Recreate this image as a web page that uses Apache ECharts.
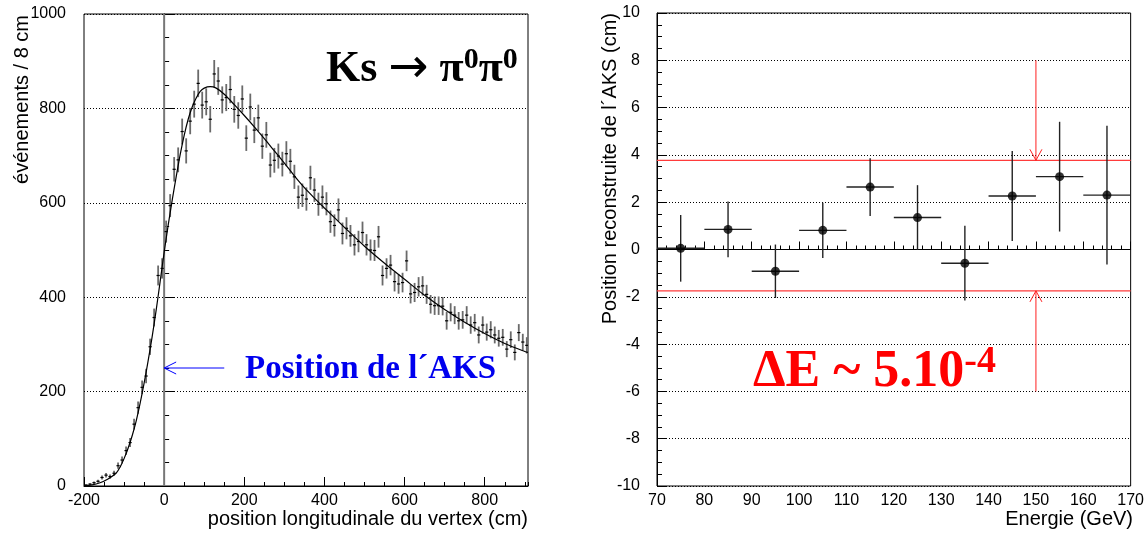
<!DOCTYPE html>
<html>
<head>
<meta charset="utf-8">
<script src="https://cdn.jsdelivr.net/npm/echarts@6/dist/echarts.min.js"></script>
<style>
  html, body { margin: 0; padding: 0; background: #fff; }
  #chart { width: 1147px; height: 534px; }
</style>
</head>
<body>
<div id="chart"></div>
<script>
// ---- Left panel: Ks -> pi0 pi0 longitudinal vertex distribution ----
const vertexBins = [
  -195, -185, -175, -165, -155, -145, -135, -125, -115, -105,
  -95, -85, -75, -65, -55, -45, -35, -25, -15, -5,
  5, 15, 25, 35, 45, 55, 65, 75, 85, 95,
  105, 115, 125, 135, 145, 155, 165, 175, 185, 195,
  205, 215, 225, 235, 245, 255, 265, 275, 285, 295,
  305, 315, 325, 335, 345, 355, 365, 375, 385, 395,
  405, 415, 425, 435, 445, 455, 465, 475, 485, 495,
  505, 515, 525, 535, 545, 555, 565, 575, 585, 595,
  605, 615, 625, 635, 645, 655, 665, 675, 685, 695,
  705, 715, 725, 735, 745, 755, 765, 775, 785, 795,
  805, 815, 825, 835, 845, 855, 865, 875, 885, 895,
  905
];
const vertexCounts = [
  2, 4, 7, 10, 18, 23, 20, 27, 43, 55,
  75, 92, 131, 166, 209, 233, 295, 357, 446, 461,
  539, 594, 671, 691, 751, 710, 773, 809, 853, 807,
  814, 777, 873, 858, 818, 823, 840, 798, 785, 820,
  737, 803, 754, 780, 720, 744, 680, 690, 699, 682,
  704, 688, 655, 612, 616, 608, 653, 627, 597, 612,
  598, 560, 552, 585, 535, 546, 530, 511, 518, 537,
  511, 500, 499, 528, 446, 461, 468, 433, 428, 431,
  477, 407, 410, 422, 424, 406, 385, 382, 382, 381,
  350, 368, 362, 350, 352, 362, 341, 346, 320, 341,
  326, 331, 320, 313, 315, 290, 310, 283, 325, 305,
  298
];
// fitted curve, sampled along x
const fitX = [-200, -180, -160, -140, -120, -110, -100, -90, -80, -70, -60, -50, -40, -30, -20, -10,
  0, 10, 20, 30, 40, 50, 60, 70, 80, 90, 100, 115, 130, 150, 175, 200, 225, 250, 275, 300,
  325, 350, 375, 400, 450, 500, 550, 600, 650, 700, 750, 800, 850, 900, 908];
const fitY = [1, 2.5, 7, 15, 27, 40, 58, 80, 106, 137, 175, 218, 265, 316, 372, 433,
  495, 552, 605, 655, 702, 743, 777, 803, 822, 836, 843, 846, 843, 830, 808, 785, 761, 736, 710, 684,
  657, 632, 610, 589, 548, 508, 472, 438, 404, 374, 347, 323, 302, 285, 283];
const aksArrow = [[150, 250, 0, 250]];   // from (x1,y1) to (x2,y2)

// ---- Right panel: reconstructed AKS position vs energy ----
const energyBins = [75, 85, 95, 105, 115, 125, 135, 145, 155, 165];
const energyHalfWidth = [5, 5, 5, 5, 5, 5, 5, 5, 5, 5];
const aksPos = [0.05, 0.85, -0.92, 0.81, 2.64, 1.35, -0.58, 2.26, 3.08, 2.30];
const aksErr = [1.41, 1.18, 1.13, 1.17, 1.22, 1.37, 1.58, 1.90, 2.32, 2.93];
const bandLimits = [3.77, -1.75];
const bandArrows = [[150, 8, 150, 3.77], [150, -6, 150, -1.75]];

const SANS = '"Liberation Sans", Arial, Helvetica, sans-serif';
const SERIF = '"Liberation Serif", "Times New Roman", "DejaVu Serif", serif';

const L = { left: 84, top: 14, width: 444, height: 472 };
const R = { left: 657, top: 13, width: 477, height: 473 };

function arrowRenderer(color, headLen, headHalf) {
  return function (params, api) {
    const p1 = api.coord([api.value(0), api.value(1)]);
    const p2 = api.coord([api.value(2), api.value(3)]);
    const dx = p2[0] - p1[0], dy = p2[1] - p1[1];
    const len = Math.hypot(dx, dy) || 1;
    const ux = dx / len, uy = dy / len;
    const bx = p2[0] - ux * headLen, by = p2[1] - uy * headLen;
    const px = -uy * headHalf, py = ux * headHalf;
    return {
      type: 'group',
      children: [
        { type: 'line', shape: { x1: p1[0], y1: p1[1], x2: p2[0], y2: p2[1] },
          style: { stroke: color, lineWidth: 1 } },
        { type: 'polyline', shape: { points: [[bx + px, by + py], [p2[0], p2[1]], [bx - px, by - py]] },
          style: { stroke: color, fill: null, lineWidth: 1 } }
      ]
    };
  };
}

function histRenderer(params, api) {
  const x = api.value(0), y = api.value(1), e = api.value(2), hw = api.value(3);
  const top = api.coord([x, y + e]);
  const bot = api.coord([x, Math.max(0, y - e)]);
  const l = api.coord([x - hw, y]);
  const r = api.coord([x + hw, y]);
  return {
    type: 'group',
    children: [
      { type: 'line', shape: { x1: top[0], y1: top[1], x2: bot[0], y2: bot[1] },
        style: { stroke: '#6a6a6a', lineWidth: 1.8 } },
      { type: 'line', shape: { x1: l[0], y1: l[1], x2: r[0], y2: r[1] },
        style: { stroke: '#000', lineWidth: 1.2 } }
    ]
  };
}

function errRenderer(params, api) {
  const x = api.value(0), y = api.value(1), e = api.value(2), hw = api.value(3);
  const top = api.coord([x, y + e]);
  const bot = api.coord([x, y - e]);
  const l = api.coord([x - hw, y]);
  const r = api.coord([x + hw, y]);
  return {
    type: 'group',
    children: [
      { type: 'line', shape: { x1: top[0], y1: top[1], x2: bot[0], y2: bot[1] },
        style: { stroke: '#222', lineWidth: 1.4 } },
      { type: 'line', shape: { x1: l[0], y1: l[1], x2: r[0], y2: r[1] },
        style: { stroke: '#222', lineWidth: 1.4 } }
    ]
  };
}

const plainNumber = v => String(v);
const labelStyle = { color: '#000', fontFamily: SANS, fontSize: 16, formatter: plainNumber };
const axisLine = { show: true, lineStyle: { color: '#000', width: 1 } };
const dotted = { show: true, lineStyle: { color: '#000', width: 1, type: [1, 2] } };

const option = {
  animation: false,
  backgroundColor: '#fff',
  grid: [
    Object.assign({ show: true, borderColor: '#000', borderWidth: 1, backgroundColor: 'transparent' }, L),
    Object.assign({ show: true, borderColor: '#000', borderWidth: 1, backgroundColor: 'transparent' }, R)
  ],
  xAxis: [
    {
      gridIndex: 0, type: 'value', min: -200, max: 908, interval: 200, position: 'bottom',
      axisLine: axisLine,
      axisTick: { show: true, inside: true, length: 9, lineStyle: { color: '#000' } },
      axisLabel: Object.assign({}, labelStyle, { margin: 7, showMaxLabel: false }),
      splitLine: { show: false }
    },
    {
      gridIndex: 0, type: 'value', min: -200, max: 908, interval: 50, position: 'bottom',
      axisLine: { show: false },
      axisTick: { show: true, inside: true, length: 4, lineStyle: { color: '#000' } },
      axisLabel: { show: false },
      splitLine: { show: false }
    },
    {
      gridIndex: 1, type: 'value', min: 70, max: 170, interval: 10, position: 'bottom',
      axisLine: axisLine,
      axisTick: { show: true, inside: true, length: 8, lineStyle: { color: '#000' } },
      minorTick: { show: true, splitNumber: 5, length: 4, lineStyle: { color: '#000' } },
      axisLabel: Object.assign({}, labelStyle, { margin: 7 }),
      splitLine: { show: false }
    }
  ],
  yAxis: [
    {
      gridIndex: 0, type: 'value', min: 0, max: 1000, interval: 200,
      axisLine: axisLine,
      axisTick: { show: true, inside: true, length: 10, lineStyle: { color: '#000' } },
      minorTick: { show: true, splitNumber: 4, length: 5, lineStyle: { color: '#000' } },
      axisLabel: Object.assign({}, labelStyle, { margin: 18 }),
      splitLine: dotted
    },
    {
      gridIndex: 1, type: 'value', min: -10, max: 10, interval: 2,
      axisLine: axisLine,
      axisTick: { show: true, inside: true, length: 10, lineStyle: { color: '#000' } },
      minorTick: { show: true, splitNumber: 4, length: 5, lineStyle: { color: '#000' } },
      axisLabel: Object.assign({}, labelStyle, { margin: 17 }),
      splitLine: dotted
    }
  ],
  series: [
    // vertical marker at the AKS position
    {
      type: 'line', xAxisIndex: 0, yAxisIndex: 0, symbol: 'none', silent: true,
      data: [[0, 0], [0, 1000]],
      lineStyle: { color: '#777', width: 2 }, z: 1
    },
    // histogram with statistical errors
    {
      type: 'custom', xAxisIndex: 0, yAxisIndex: 0, clip: true,
      renderItem: histRenderer,
      encode: { x: 0, y: 1 },
      data: vertexBins.map((x, i) => [x, vertexCounts[i], Math.sqrt(vertexCounts[i]), 4]),
      z: 3
    },
    // fitted curve
    {
      type: 'line', xAxisIndex: 0, yAxisIndex: 0, symbol: 'none', smooth: 0.3,
      data: fitX.map((x, i) => [x, fitY[i]]),
      lineStyle: { color: '#000', width: 1.2 }, z: 4
    },
    // blue arrow pointing to the AKS
    {
      type: 'custom', xAxisIndex: 0, yAxisIndex: 0,
      renderItem: arrowRenderer('#0000ff', 12, 6),
      encode: { x: [0, 2], y: [1, 3] },
      data: aksArrow, z: 5
    },
    // band limits
    {
      type: 'line', xAxisIndex: 2, yAxisIndex: 1, symbol: 'none', silent: true,
      data: [[70, bandLimits[0]], [170, bandLimits[0]]],
      lineStyle: { color: '#ff3b3b', width: 1.3 }, z: 2
    },
    {
      type: 'line', xAxisIndex: 2, yAxisIndex: 1, symbol: 'none', silent: true,
      data: [[70, bandLimits[1]], [170, bandLimits[1]]],
      lineStyle: { color: '#ff3b3b', width: 1.3 }, z: 2
    },
    {
      type: 'custom', xAxisIndex: 2, yAxisIndex: 1,
      renderItem: arrowRenderer('#ff2020', 11, 6),
      encode: { x: [0, 2], y: [1, 3] },
      data: bandArrows, z: 3
    },
    // measured positions with errors
    {
      type: 'custom', xAxisIndex: 2, yAxisIndex: 1, clip: true,
      renderItem: errRenderer,
      encode: { x: 0, y: 1 },
      data: energyBins.map((x, i) => [x, aksPos[i], aksErr[i], energyHalfWidth[i]]),
      z: 4
    },
    {
      type: 'scatter', xAxisIndex: 2, yAxisIndex: 1, symbol: 'circle', symbolSize: 9,
      itemStyle: { color: '#000' },
      data: energyBins.map((x, i) => [x, aksPos[i]]), z: 5
    }
  ],
  graphic: [
    // axis titles
    { type: 'text', x: 22, y: 15, rotation: Math.PI / 2,
      style: { text: 'événements / 8 cm', font: '20px ' + SANS, fill: '#000', align: 'right', verticalAlign: 'middle' } },
    { type: 'text', x: 528, y: 519,
      style: { text: 'position longitudinale du vertex (cm)', font: '20px ' + SANS, fill: '#000', align: 'right', verticalAlign: 'middle' } },
    { type: 'text', x: 610, y: 13, rotation: Math.PI / 2,
      style: { text: 'Position reconstruite de l´AKS (cm)', font: '20px ' + SANS, fill: '#000', align: 'right', verticalAlign: 'middle' } },
    { type: 'text', x: 1133, y: 519,
      style: { text: 'Energie (GeV)', font: '20px ' + SANS, fill: '#000', align: 'right', verticalAlign: 'middle' } },
    // annotations
    { type: 'text', x: 326, y: 45, z: 10,
      style: {
        text: '{a|Ks }{r|→}{a| π}{s|0}{a|π}{s|0}', align: 'left', verticalAlign: 'top',
        rich: {
          a: { fontFamily: SERIF, fontWeight: 'bold', fontSize: 44, lineHeight: 50, fill: '#000' },
          r: { fontFamily: '"DejaVu Sans", sans-serif', fontWeight: 'normal', fontSize: 48, lineHeight: 50, fill: '#000' },
          s: { fontFamily: SERIF, fontWeight: 'bold', fontSize: 30, lineHeight: 20, verticalAlign: 'top', fill: '#000' }
        }
      } },
    { type: 'text', x: 245, y: 369, z: 10,
      style: { text: 'Position de l´AKS', font: 'bold 33px ' + SERIF, fill: '#0000ee', align: 'left', verticalAlign: 'middle' } },
    { type: 'text', x: 753, y: 343, z: 10,
      style: {
        text: '{a|ΔE ~ 5.10}{s|-4}', align: 'left', verticalAlign: 'top',
        rich: {
          a: { fontFamily: SERIF, fontWeight: 'bold', fontSize: 52, lineHeight: 60, fill: '#ff0000' },
          s: { fontFamily: SERIF, fontWeight: 'bold', fontSize: 38, lineHeight: 19, verticalAlign: 'top', fill: '#ff0000' }
        }
      } }
  ]
};

const chart = echarts.init(document.getElementById('chart'), null, { renderer: 'canvas' });
chart.setOption(option);
</script>
</body>
</html>
